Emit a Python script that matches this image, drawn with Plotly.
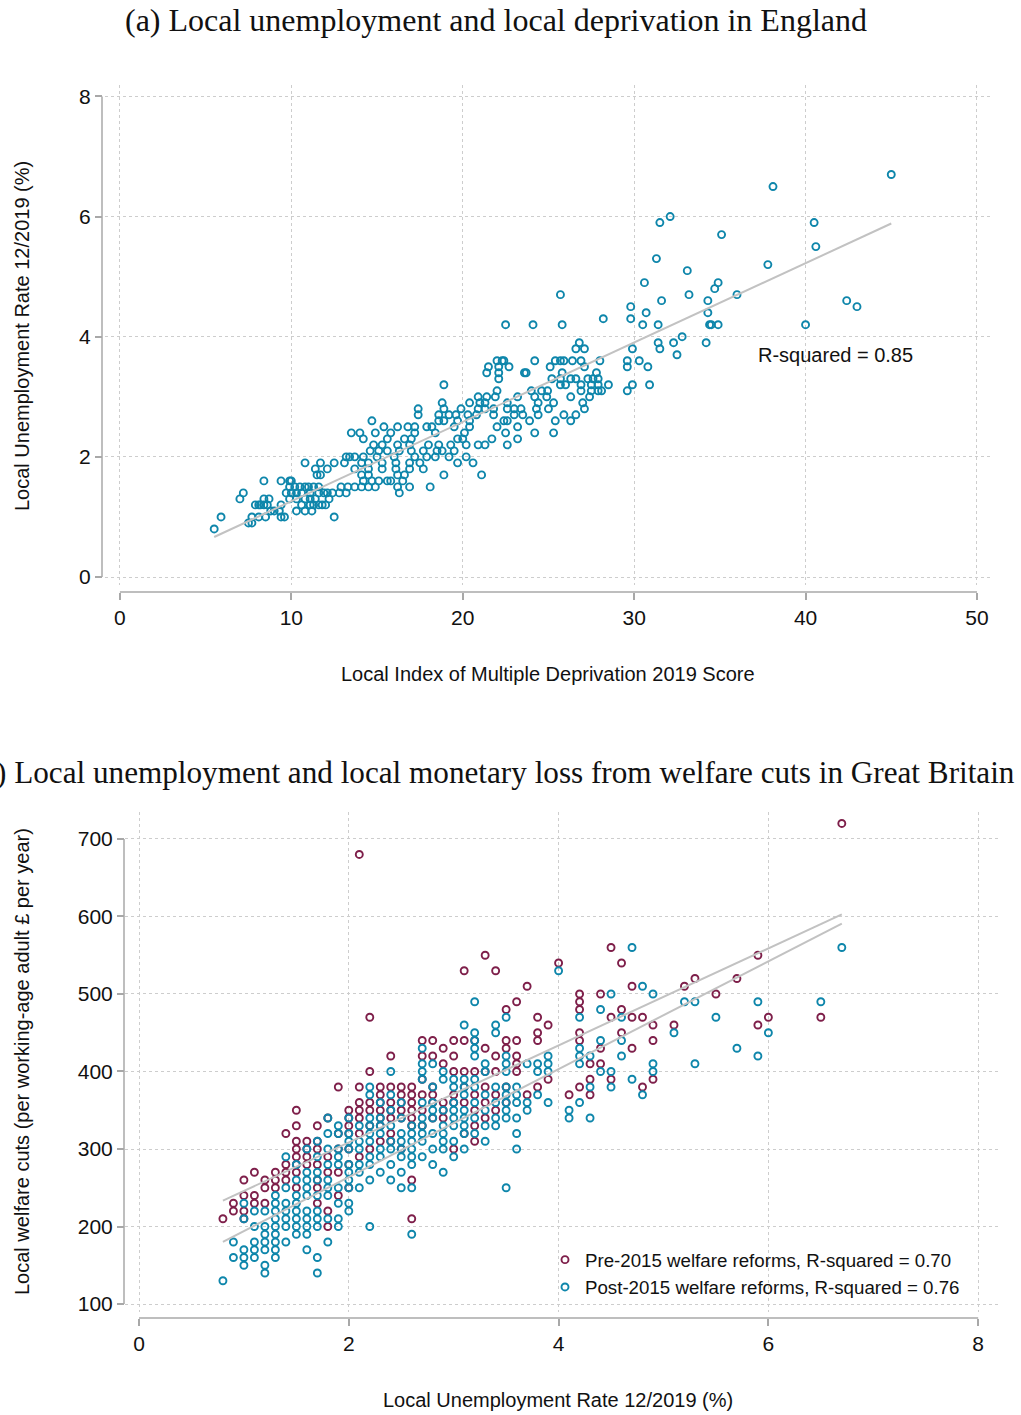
import numpy as np
import plotly.graph_objects as go

# ---------------- Panel (a) data: IMD score vs unemployment rate ----------------
imd_score = [
    5.5,
    7.5, 7.7,
    5.9, 7.7, 8.1, 8.5, 9.4, 9.6, 12.5,
    8.8, 9.0, 9.3, 10.3, 10.8, 11.2,
    7.9, 8.1, 8.2, 8.4, 8.6, 9.4, 10.6, 11.1, 11.3, 11.6, 11.8, 12.0,
    7.0, 8.4, 8.7, 9.9, 10.3, 10.8, 11.1, 11.4, 12.2,
    7.2, 9.7, 10.0, 10.3, 10.6, 11.1, 11.6, 11.9, 12.1, 12.4, 12.8, 13.2, 16.3,
    9.9, 10.2, 10.5, 10.8, 11.0, 11.3, 11.6, 12.9, 13.3, 13.7, 14.1, 14.5, 14.9, 16.2, 16.9, 18.1,
    8.4, 9.4, 9.9, 10.0, 14.2, 14.7, 15.1, 15.6, 15.8, 16.5,
    11.5, 11.7, 14.1, 14.5, 16.2, 16.6, 18.9, 21.1,
    11.4, 12.1, 13.7, 14.5, 15.3, 16.1, 16.9, 17.7,
    10.8, 11.7, 12.5, 13.1, 14.1, 14.5, 15.3, 16.1, 16.9, 17.5, 19.7, 20.6,
    13.2, 13.4, 13.7, 14.2, 15.0, 16.0, 17.2, 17.9, 18.4, 19.2, 20.2,
    14.6, 15.1, 15.6, 16.3, 17.0, 17.7, 18.5, 18.8, 19.5,
    14.8, 15.3, 16.2, 16.9, 18.0, 18.6, 19.3, 20.2, 20.9, 21.3, 22.6,
    14.2, 15.6, 16.6, 17.0, 19.7, 20.0, 21.7, 23.2,
    13.5, 14.0, 14.9, 15.8, 17.2, 18.4, 20.1, 22.5, 24.2, 25.3,
    15.4, 16.2, 16.8, 17.2, 17.9, 18.2, 19.5, 20.4, 22.0, 23.2,
    14.7, 18.6, 18.9, 19.7, 20.4, 22.4, 22.6, 23.9, 25.4, 26.3,
    17.4, 18.6, 19.2, 19.6, 20.3, 20.8, 21.8, 23.0, 23.5, 24.4, 25.9, 26.6,
    17.4, 18.9, 19.9, 20.9, 21.3, 21.8, 22.6, 23.0, 23.4, 24.3, 25.0, 27.1,
    18.8, 20.4, 21.0, 21.3, 22.6, 24.4, 25.3, 27.0,
    20.9, 21.4, 21.9, 23.2, 24.2, 24.9, 26.3, 27.4,
    22.0, 24.0, 24.6, 24.95, 26.9, 27.5, 27.9, 28.1, 29.6,
    18.9, 25.7, 26.0, 26.9, 27.5, 27.9, 28.5, 29.9, 30.9,
    22.1, 25.2, 25.7, 26.3, 26.6, 27.3, 27.6, 27.9,
    21.4, 22.1, 23.6, 23.7, 25.8, 27.8,
    21.5, 22.1, 22.7, 25.1, 27.1, 29.6, 30.8,
    22.0, 22.3, 22.4, 24.2, 25.4, 25.7, 25.9, 26.4, 26.9, 28.0, 29.6, 30.3,
    32.5,
    26.6, 27.1, 29.9, 31.5,
    26.8, 31.4, 32.3, 34.2,
    32.8,
    22.5, 24.1, 25.8, 30.5, 31.4, 34.4, 34.5, 34.9, 40.0,
    28.2, 29.8,
    30.7, 34.3,
    29.8, 43.0,
    31.6, 34.3, 42.4,
    25.7, 33.2, 36.0,
    34.7,
    30.6, 34.9,
    33.1,
    37.8,
    31.3,
    40.6,
    35.1,
    31.5, 40.5,
    32.1,
    38.1,
    45.0,
]
unemp_rate = [
    0.8,
    0.9, 0.9,
    1.0, 1.0, 1.0, 1.0, 1.0, 1.0, 1.0,
    1.1, 1.1, 1.1, 1.1, 1.1, 1.1,
    1.2, 1.2, 1.2, 1.2, 1.2, 1.2, 1.2, 1.2, 1.2, 1.2, 1.2, 1.2,
    1.3, 1.3, 1.3, 1.3, 1.3, 1.3, 1.3, 1.3, 1.3,
    1.4, 1.4, 1.4, 1.4, 1.4, 1.4, 1.4, 1.4, 1.4, 1.4, 1.4, 1.4, 1.4,
    1.5, 1.5, 1.5, 1.5, 1.5, 1.5, 1.5, 1.5, 1.5, 1.5, 1.5, 1.5, 1.5, 1.5, 1.5, 1.5,
    1.6, 1.6, 1.6, 1.6, 1.6, 1.6, 1.6, 1.6, 1.6, 1.6,
    1.7, 1.7, 1.7, 1.7, 1.7, 1.7, 1.7, 1.7,
    1.8, 1.8, 1.8, 1.8, 1.8, 1.8, 1.8, 1.8,
    1.9, 1.9, 1.9, 1.9, 1.9, 1.9, 1.9, 1.9, 1.9, 1.9, 1.9, 1.9,
    2.0, 2.0, 2.0, 2.0, 2.0, 2.0, 2.0, 2.0, 2.0, 2.0, 2.0,
    2.1, 2.1, 2.1, 2.1, 2.1, 2.1, 2.1, 2.1, 2.1,
    2.2, 2.2, 2.2, 2.2, 2.2, 2.2, 2.2, 2.2, 2.2, 2.2, 2.2,
    2.3, 2.3, 2.3, 2.3, 2.3, 2.3, 2.3, 2.3,
    2.4, 2.4, 2.4, 2.4, 2.4, 2.4, 2.4, 2.4, 2.4, 2.4,
    2.5, 2.5, 2.5, 2.5, 2.5, 2.5, 2.5, 2.5, 2.5, 2.5,
    2.6, 2.6, 2.6, 2.6, 2.6, 2.6, 2.6, 2.6, 2.6, 2.6,
    2.7, 2.7, 2.7, 2.7, 2.7, 2.7, 2.7, 2.7, 2.7, 2.7, 2.7, 2.7,
    2.8, 2.8, 2.8, 2.8, 2.8, 2.8, 2.8, 2.8, 2.8, 2.8, 2.8, 2.8,
    2.9, 2.9, 2.9, 2.9, 2.9, 2.9, 2.9, 2.9,
    3.0, 3.0, 3.0, 3.0, 3.0, 3.0, 3.0, 3.0,
    3.1, 3.1, 3.1, 3.1, 3.1, 3.1, 3.1, 3.1, 3.1,
    3.2, 3.2, 3.2, 3.2, 3.2, 3.2, 3.2, 3.2, 3.2,
    3.3, 3.3, 3.3, 3.3, 3.3, 3.3, 3.3, 3.3,
    3.4, 3.4, 3.4, 3.4, 3.4, 3.4,
    3.5, 3.5, 3.5, 3.5, 3.5, 3.5, 3.5,
    3.6, 3.6, 3.6, 3.6, 3.6, 3.6, 3.6, 3.6, 3.6, 3.6, 3.6, 3.6,
    3.7,
    3.8, 3.8, 3.8, 3.8,
    3.9, 3.9, 3.9, 3.9,
    4.0,
    4.2, 4.2, 4.2, 4.2, 4.2, 4.2, 4.2, 4.2, 4.2,
    4.3, 4.3,
    4.4, 4.4,
    4.5, 4.5,
    4.6, 4.6, 4.6,
    4.7, 4.7, 4.7,
    4.8,
    4.9, 4.9,
    5.1,
    5.2,
    5.3,
    5.5,
    5.7,
    5.9, 5.9,
    6.0,
    6.5,
    6.7,
]
# linear fit: intercept, slope
fit_a = (-0.06, 0.1321)

# ---------------- Panel (b) data: unemployment rate vs welfare cuts ----------------
unemp_pre = [
    0.8,
    0.9, 0.9,
    1.0, 1.0, 1.0, 1.0,
    1.1, 1.1, 1.1,
    1.2, 1.2, 1.2,
    1.3, 1.3, 1.3,
    1.4, 1.4, 1.4, 1.4,
    1.5, 1.5, 1.5, 1.5, 1.5, 1.5, 1.5, 1.5,
    1.6, 1.6, 1.6, 1.6,
    1.7, 1.7, 1.7, 1.7, 1.7, 1.7, 1.7,
    1.8, 1.8, 1.8, 1.8, 1.8,
    1.9, 1.9, 1.9, 1.9, 1.9,
    2.0, 2.0, 2.0, 2.0, 2.0, 2.0, 2.0,
    2.1, 2.1, 2.1, 2.1, 2.1, 2.1, 2.1,
    2.2, 2.2, 2.2, 2.2, 2.2, 2.2,
    2.3, 2.3, 2.3, 2.3, 2.3, 2.3, 2.3,
    2.4, 2.4, 2.4, 2.4, 2.4, 2.4, 2.4,
    2.5, 2.5, 2.5, 2.5, 2.5, 2.5,
    2.6, 2.6, 2.6, 2.6, 2.6, 2.6, 2.6, 2.6,
    2.7, 2.7, 2.7, 2.7, 2.7, 2.7,
    2.8, 2.8, 2.8, 2.8, 2.8, 2.8,
    2.9, 2.9, 2.9, 2.9, 2.9,
    3.0, 3.0, 3.0, 3.0, 3.0, 3.0,
    3.1, 3.1, 3.1, 3.1, 3.1, 3.1,
    3.2, 3.2, 3.2, 3.2, 3.2, 3.2,
    3.3, 3.3, 3.3, 3.3, 3.3, 3.3,
    3.4, 3.4, 3.4, 3.4, 3.4,
    3.5, 3.5, 3.5, 3.5, 3.5,
    3.6, 3.6, 3.6, 3.6, 3.6,
    3.7, 3.7,
    3.8, 3.8, 3.8, 3.8,
    3.9, 3.9,
    4.0,
    4.1,
    4.2, 4.2, 4.2, 4.2, 4.2, 4.2,
    4.3, 4.3, 4.3,
    4.4, 4.4, 4.4,
    4.5, 4.5, 4.5,
    4.6, 4.6, 4.6,
    4.7, 4.7, 4.7,
    4.8, 4.8,
    4.9, 4.9, 4.9,
    5.1,
    5.2,
    5.3,
    5.5,
    5.7,
    5.9, 5.9,
    6.0,
    6.5,
    6.7,
]
cuts_pre = [
    210,
    220, 230,
    210, 220, 240, 260,
    230, 240, 270,
    230, 250, 260,
    250, 260, 270,
    260, 270, 280, 320,
    250, 270, 280, 290, 300, 310, 330, 350,
    280, 290, 300, 310,
    230, 250, 260, 280, 300, 310, 330,
    200, 220, 270, 290, 340,
    240, 270, 300, 320, 380,
    250, 280, 300, 320, 330, 340, 350,
    290, 320, 340, 350, 360, 380, 680,
    300, 330, 350, 360, 400, 470,
    310, 330, 340, 350, 360, 370, 380,
    310, 320, 340, 350, 360, 380, 420,
    300, 340, 350, 360, 370, 380,
    210, 260, 330, 340, 350, 360, 370, 380,
    330, 350, 370, 390, 420, 440,
    340, 360, 370, 380, 420, 440,
    340, 350, 360, 410, 430,
    300, 360, 370, 400, 420, 440,
    320, 360, 380, 400, 440, 530,
    310, 330, 350, 370, 400, 440,
    340, 360, 380, 400, 430, 550,
    350, 370, 400, 420, 530,
    360, 380, 430, 440, 480,
    400, 410, 420, 440, 490,
    370, 510,
    380, 440, 450, 470,
    390, 460,
    540,
    370,
    380, 440, 450, 480, 490, 500,
    370, 390, 410,
    410, 430, 500,
    390, 470, 560,
    450, 480, 540,
    430, 470, 510,
    380, 470,
    390, 440, 460,
    460,
    510,
    520,
    500,
    520,
    460, 550,
    470,
    470,
    720,
]
unemp_post = [
    0.8,
    0.9, 0.9,
    1.0, 1.0, 1.0, 1.0, 1.0,
    1.1, 1.1, 1.1, 1.1, 1.1,
    1.2, 1.2, 1.2, 1.2, 1.2, 1.2, 1.2,
    1.3, 1.3, 1.3, 1.3, 1.3, 1.3, 1.3, 1.3, 1.3,
    1.4, 1.4, 1.4, 1.4, 1.4, 1.4, 1.4,
    1.5, 1.5, 1.5, 1.5, 1.5, 1.5, 1.5, 1.5,
    1.6, 1.6, 1.6, 1.6, 1.6, 1.6, 1.6, 1.6, 1.6, 1.6,
    1.7, 1.7, 1.7, 1.7, 1.7, 1.7, 1.7, 1.7, 1.7, 1.7,
    1.8, 1.8, 1.8, 1.8, 1.8, 1.8, 1.8, 1.8, 1.8,
    1.9, 1.9, 1.9, 1.9, 1.9, 1.9, 1.9, 1.9, 1.9,
    2.0, 2.0, 2.0, 2.0, 2.0, 2.0, 2.0, 2.0, 2.0, 2.0,
    2.1, 2.1, 2.1, 2.1, 2.1, 2.1,
    2.2, 2.2, 2.2, 2.2, 2.2, 2.2, 2.2, 2.2, 2.2, 2.2,
    2.3, 2.3, 2.3, 2.3, 2.3, 2.3, 2.3,
    2.4, 2.4, 2.4, 2.4, 2.4, 2.4, 2.4, 2.4,
    2.5, 2.5, 2.5, 2.5, 2.5, 2.5, 2.5, 2.5,
    2.6, 2.6, 2.6, 2.6, 2.6, 2.6, 2.6, 2.6,
    2.7, 2.7, 2.7, 2.7, 2.7, 2.7, 2.7, 2.7, 2.7, 2.7,
    2.8, 2.8, 2.8, 2.8, 2.8, 2.8, 2.8, 2.8,
    2.9, 2.9, 2.9, 2.9, 2.9, 2.9, 2.9, 2.9,
    3.0, 3.0, 3.0, 3.0, 3.0, 3.0, 3.0, 3.0,
    3.1, 3.1, 3.1, 3.1, 3.1, 3.1, 3.1, 3.1, 3.1,
    3.2, 3.2, 3.2, 3.2, 3.2, 3.2, 3.2, 3.2, 3.2, 3.2,
    3.3, 3.3, 3.3, 3.3, 3.3, 3.3,
    3.4, 3.4, 3.4, 3.4, 3.4, 3.4,
    3.5, 3.5, 3.5, 3.5, 3.5, 3.5, 3.5, 3.5, 3.5, 3.5,
    3.6, 3.6, 3.6, 3.6, 3.6, 3.6,
    3.7, 3.7, 3.7,
    3.8, 3.8, 3.8,
    3.9, 3.9, 3.9, 3.9,
    4.0,
    4.1, 4.1,
    4.2, 4.2, 4.2, 4.2, 4.2,
    4.3, 4.3, 4.3,
    4.4, 4.4, 4.4,
    4.5, 4.5, 4.5,
    4.6, 4.6, 4.6,
    4.7, 4.7,
    4.8, 4.8,
    4.9, 4.9, 4.9,
    5.1,
    5.2,
    5.3, 5.3,
    5.5,
    5.7,
    5.9, 5.9,
    6.0,
    6.5,
    6.7,
]
cuts_post = [
    130,
    160, 180,
    150, 160, 170, 210, 230,
    160, 170, 180, 200, 220,
    140, 150, 170, 180, 190, 200, 220,
    160, 170, 180, 190, 200, 210, 220, 230, 240,
    180, 200, 210, 220, 230, 250, 290,
    190, 200, 210, 220, 230, 240, 260, 280,
    170, 190, 200, 210, 220, 240, 250, 260, 270, 300,
    140, 160, 200, 210, 220, 240, 260, 270, 290, 310,
    180, 210, 240, 250, 260, 280, 300, 320, 340,
    200, 210, 230, 250, 280, 290, 300, 320, 330,
    220, 230, 250, 260, 270, 280, 300, 310, 320, 340,
    250, 270, 280, 300, 310, 330,
    200, 260, 280, 290, 310, 320, 330, 340, 370, 380,
    270, 290, 300, 320, 330, 340, 360,
    260, 280, 300, 310, 330, 350, 370, 400,
    250, 270, 290, 300, 310, 320, 340, 360,
    190, 250, 280, 290, 300, 310, 320, 330,
    290, 310, 320, 330, 340, 360, 390, 400, 410, 430,
    280, 300, 320, 340, 350, 360, 380, 410,
    270, 300, 310, 320, 330, 350, 390, 400,
    290, 310, 330, 340, 350, 360, 380, 390,
    300, 320, 330, 340, 350, 370, 380, 390, 460,
    320, 340, 360, 380, 390, 420, 430, 440, 450, 490,
    310, 330, 350, 370, 400, 410,
    330, 340, 360, 380, 450, 460,
    250, 340, 350, 360, 370, 380, 400, 410, 420, 470,
    300, 320, 340, 360, 370, 380,
    350, 360, 410,
    370, 400, 410,
    360, 400, 410, 420,
    530,
    340, 350,
    360, 410, 420, 430, 470,
    340, 380, 420,
    400, 440, 480,
    380, 400, 500,
    420, 440, 470,
    390, 560,
    370, 510,
    400, 410, 500,
    450,
    490,
    410, 490,
    470,
    430,
    420, 490,
    450,
    490,
    560,
]
# linear fits: intercept, slope
fit_pre = (183.3, 62.6)
fit_post = (124.6, 69.6)

# ---------------- Text ----------------
title_a = "(a) Local unemployment and local deprivation in England"
title_b = "(b) Local unemployment and local monetary loss from welfare cuts in Great Britain"
xlabel_a = "Local Index of Multiple Deprivation 2019 Score"
ylabel_a = "Local Unemployment Rate 12/2019 (%)"
xlabel_b = "Local Unemployment Rate 12/2019 (%)"
ylabel_b = "Local welfare cuts (per working-age adult £ per year)"
r2_a = "R-squared = 0.85"
name_pre = "Pre-2015 welfare reforms, R-squared = 0.70"
name_post = "Post-2015 welfare reforms, R-squared = 0.76"
xticks_a = [0, 10, 20, 30, 40, 50]
yticks_a = [0, 2, 4, 6, 8]
xticks_b = [0, 2, 4, 6, 8]
yticks_b = [100, 200, 300, 400, 500, 600, 700]

# ---------------- Styling ----------------
W, H = 1021, 1415
def px(v):
    return v / W
def py(v):
    return 1 - v / H

TEAL = "#0E86AB"
MAROON = "#7E1F4A"
GRID = "#CDCDCD"
AXIS = "#A8A8A8"
FIT = "#C2C2C2"
INK = "#111111"
SANS = "Liberation Sans, Arial, sans-serif"
SERIF = "Liberation Serif, Times New Roman, serif"
FS = 20
TFS = 21
LFS = 18.7

marker_style = dict(symbol="circle-open", size=7, line=dict(width=1.9))

fig = go.Figure()

# Panel (a)
fig.add_trace(go.Scatter(x=imd_score, y=unemp_rate, mode="markers",
                         marker=dict(color=TEAL, **marker_style),
                         xaxis="x", yaxis="y", showlegend=False))
xa = np.array([min(imd_score), max(imd_score)])
fig.add_trace(go.Scatter(x=xa, y=fit_a[0] + fit_a[1] * xa, mode="lines",
                         line=dict(color=FIT, width=2),
                         xaxis="x", yaxis="y", showlegend=False))

# Panel (b)
fig.add_trace(go.Scatter(x=unemp_pre, y=cuts_pre, mode="markers", name=name_pre,
                         marker=dict(color=MAROON, **marker_style),
                         xaxis="x2", yaxis="y2"))
fig.add_trace(go.Scatter(x=unemp_post, y=cuts_post, mode="markers", name=name_post,
                         marker=dict(color=TEAL, **marker_style),
                         xaxis="x2", yaxis="y2"))
for xs, (ic, sl) in ((unemp_pre, fit_pre), (unemp_post, fit_post)):
    xl = np.array([min(xs), max(xs)])
    fig.add_trace(go.Scatter(x=xl, y=ic + sl * xl, mode="lines",
                             line=dict(color=FIT, width=2),
                             xaxis="x2", yaxis="y2", showlegend=False))

common_axis = dict(
    showline=False, zeroline=False, showgrid=True,
    gridcolor=GRID, griddash="dot", gridwidth=1,
    ticks="outside", ticklen=7, tickwidth=1.5, tickcolor=AXIS,
    tickfont=dict(family=SANS, size=TFS, color=INK),
    anchor="free", fixedrange=True,
)

fig.update_layout(
    width=W, height=H,
    margin=dict(l=0, r=0, t=0, b=0, autoexpand=False),
    paper_bgcolor="white", plot_bgcolor="white",
    xaxis=dict(domain=[px(105), px(990)], range=[-0.87, 50.76],
               tickvals=xticks_a, position=py(592), **common_axis),
    yaxis=dict(domain=[py(585), py(85)], range=[-0.133, 8.19],
               tickvals=yticks_a, position=px(102), **common_axis),
    xaxis2=dict(domain=[px(125), px(998)], range=[-0.1335, 8.189],
                tickvals=xticks_b, position=py(1318), **common_axis),
    yaxis2=dict(domain=[py(1312), py(812)], range=[89.7, 734.8],
                tickvals=yticks_b, position=px(124), **common_axis),
    legend=dict(x=px(545), y=py(1241), xanchor="left", yanchor="top",
                font=dict(family=SANS, size=LFS, color=INK),
                bgcolor="rgba(0,0,0,0)", tracegroupgap=0),
    showlegend=True,
)

# axis lines spanning the tick range only
line_style = dict(color=AXIS, width=1.5)
fig.add_shape(type="line", xref="x", yref="paper", x0=xticks_a[0], x1=xticks_a[-1],
              y0=py(592), y1=py(592), line=line_style)
fig.add_shape(type="line", xref="paper", yref="y", x0=px(102), x1=px(102),
              y0=yticks_a[0], y1=yticks_a[-1], line=line_style)
fig.add_shape(type="line", xref="x2", yref="paper", x0=xticks_b[0], x1=xticks_b[-1],
              y0=py(1318), y1=py(1318), line=line_style)
fig.add_shape(type="line", xref="paper", yref="y2", x0=px(124), x1=px(124),
              y0=yticks_b[0], y1=yticks_b[-1], line=line_style)

ann = []
ann.append(dict(text=title_a, x=px(496), y=py(20), xref="paper", yref="paper",
                xanchor="center", yanchor="middle", showarrow=False,
                font=dict(family=SERIF, size=32, color=INK)))
ann.append(dict(text=title_b, x=px(1017), y=py(772), xref="paper", yref="paper",
                xanchor="right", yanchor="middle", showarrow=False,
                font=dict(family=SERIF, size=31.2, color=INK)))
ann.append(dict(text=xlabel_a, x=px(547.5), y=py(674), xref="paper", yref="paper",
                xanchor="center", yanchor="middle", showarrow=False,
                font=dict(family=SANS, size=FS, color=INK)))
ann.append(dict(text=ylabel_a, x=px(22), y=py(336), xref="paper", yref="paper",
                xanchor="center", yanchor="middle", textangle=-90, showarrow=False,
                font=dict(family=SANS, size=FS, color=INK)))
ann.append(dict(text=xlabel_b, x=px(558), y=py(1400), xref="paper", yref="paper",
                xanchor="center", yanchor="middle", showarrow=False,
                font=dict(family=SANS, size=FS, color=INK)))
ann.append(dict(text=ylabel_b, x=px(22), y=py(1062), xref="paper", yref="paper",
                xanchor="center", yanchor="middle", textangle=-90, showarrow=False,
                font=dict(family=SANS, size=FS, color=INK)))
ann.append(dict(text=r2_a, x=37.1, y=3.7, xref="x", yref="y",
                xanchor="left", yanchor="middle", showarrow=False,
                font=dict(family=SANS, size=FS, color=INK)))
fig.update_layout(annotations=ann)

fig.write_html("out.html")
